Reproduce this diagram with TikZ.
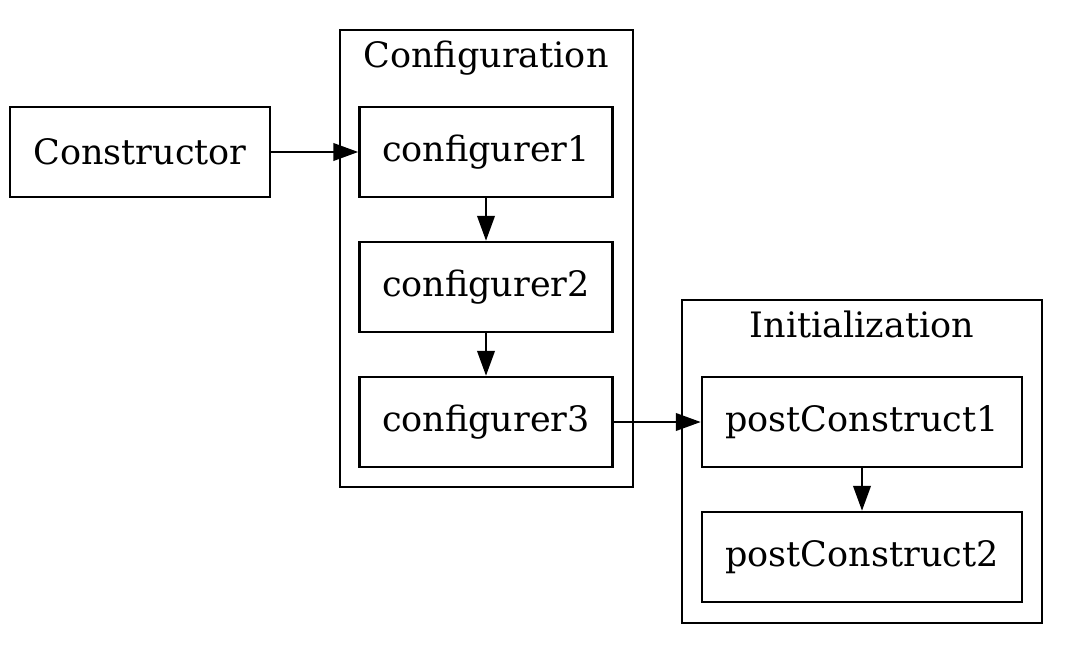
\documentclass[tikz,border=0pt]{standalone}
\usepackage{fontspec}
\setmainfont{DejaVu Serif}
\usetikzlibrary{arrows.meta}
\begin{document}
\begin{tikzpicture}[x=0.4pt,y=-0.4pt,
  box/.style={draw,line width=1pt,minimum width=253*0.4pt,minimum height=90*0.4pt,inner sep=0pt,font=\fontsize{14pt}{16pt}\selectfont},
  wbox/.style={box,minimum width=320*0.4pt},
  cluster/.style={draw,line width=1pt},
  lbl/.style={font=\fontsize{14pt}{16pt}\selectfont,inner sep=0pt,anchor=base},
  arr/.style={line width=1pt,-{Triangle[length=10pt,width=7pt]}}]
\useasboundingbox (0,0) rectangle (1073,653);
\draw[cluster] (340,30) rectangle (633,487);
\node[lbl] (cfglbl) at (486,67) {Configuration};
\draw[cluster] (682,300) rectangle (1042,623);
\node[lbl] (initlbl) at (862,337) {Initialization};
\node[box,minimum width=260*0.4pt] (ctor) at (140,152) {Constructor};
\node[box] (c1) at (486,152) {configurer1};
\node[box] (c2) at (486,287) {configurer2};
\node[box] (c3) at (486,422) {configurer3};
\node[wbox] (p1) at (862,422) {postConstruct1};
\node[wbox] (p2) at (862,557) {postConstruct2};
\draw[arr] (ctor) -- (c1);
\draw[arr] (c1) -- (c2);
\draw[arr] (c2) -- (c3);
\draw[arr] (c3) -- (p1);
\draw[arr] (p1) -- (p2);
\end{tikzpicture}
\end{document}
